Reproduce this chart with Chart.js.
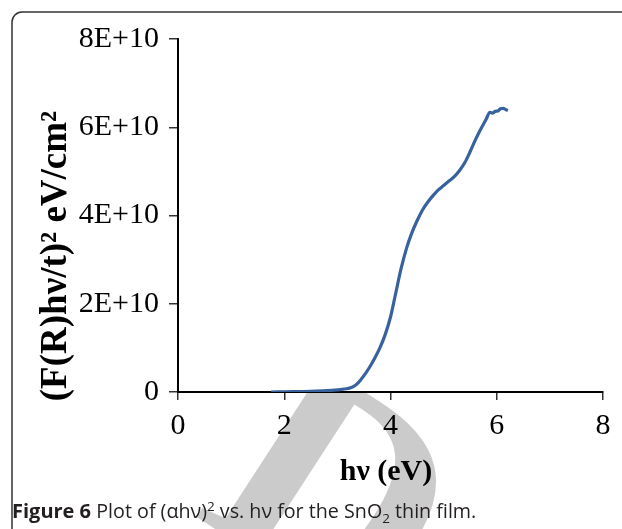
<!DOCTYPE html>
<html>
<head>
<meta charset="utf-8">
<script src="https://cdn.jsdelivr.net/npm/chart.js@4.4.1/dist/chart.umd.min.js"></script>
<style>
  html, body { margin: 0; padding: 0; background: #fff; }
  #wrap { width: 622px; height: 529px; position: relative; }
</style>
</head>
<body>
<div id="wrap"><canvas id="bandGapChart" width="622" height="529"></canvas></div>
<script>
// photon energy hv (eV) and (F(R)hv/t)^2 in units of 1E+10 eV/cm^2
const energy = [1.75, 2.0, 2.5, 2.8, 3.0, 3.2, 3.3, 3.4, 3.5, 3.6, 3.7, 3.8, 3.9, 4.0, 4.1,
                4.2, 4.3, 4.4, 4.5, 4.6, 4.7, 4.8, 4.9, 5.0, 5.1, 5.2, 5.3, 5.4, 5.5, 5.6, 5.7,
                5.8, 5.87, 5.92, 5.97, 6.02, 6.07, 6.12, 6.17, 6.21];
const absorb = [0.0, 0.005, 0.015, 0.03, 0.05, 0.08, 0.12, 0.22, 0.37, 0.55, 0.76, 1.0, 1.3, 1.7, 2.25,
                2.8, 3.25, 3.6, 3.88, 4.12, 4.3, 4.45, 4.58, 4.68, 4.78, 4.88, 5.02, 5.2, 5.45, 5.72, 5.96,
                6.18, 6.34, 6.32, 6.36, 6.37, 6.42, 6.43, 6.40, 6.38];
const xTicks = [0, 2, 4, 6, 8];
const yTicks = [0, 2e10, 4e10, 6e10, 8e10];

const points = energy.map((e, i) => ({ x: e, y: absorb[i] * 1e10 }));

// frame, watermark, axis titles and caption
const decor = {
    id: 'decor',
    beforeDraw(chart) {
        const ctx = chart.ctx;
        const area = chart.chartArea;
        ctx.save();
        ctx.fillStyle = '#fff';
        ctx.fillRect(0, 0, chart.width, chart.height);
        // watermark, hidden behind the plot
        ctx.beginPath();
        ctx.rect(0, area.bottom + 1, chart.width, chart.height);
        ctx.clip();
        ctx.fillStyle = '#cbcbcb';
        ctx.font = 'bold 300px "Liberation Serif"';
        ctx.translate(192, 514);
        ctx.rotate(0.576);
        ctx.textBaseline = 'alphabetic';
        ctx.fillText('D', 0, 0);
        ctx.restore();
    },
    afterDraw(chart) {
        const ctx = chart.ctx;
        ctx.save();
        // rounded frame
        ctx.strokeStyle = '#333';
        ctx.lineWidth = 1.5;
        ctx.beginPath();
        ctx.moveTo(12, 540);
        ctx.lineTo(12, 22);
        ctx.arcTo(12, 12, 22, 12, 10);
        ctx.lineTo(640, 12);
        ctx.stroke();

        ctx.fillStyle = '#000';
        ctx.textAlign = 'center';
        ctx.textBaseline = 'alphabetic';
        ctx.font = 'bold 30px "Liberation Serif"';
        ctx.fillText('h\u03bd (eV)', 386, 480);

        ctx.save();
        ctx.translate(66, 256);
        ctx.rotate(-Math.PI / 2);
        ctx.font = 'bold 37px "Liberation Serif"';
        ctx.fillText('(F(R)h\u03bd/t)\u00b2 eV/cm\u00b2', 0, 0);
        ctx.restore();

        // caption
        ctx.textAlign = 'left';
        ctx.fillStyle = '#231f20';
        let x = 12;
        const y = 518;
        ctx.font = 'bold 20px "Open Sans"';
        ctx.fillText('Figure 6', x, y);
        x += ctx.measureText('Figure 6 ').width;
        const parts = [['Plot of (\u03b1h\u03bd)', 0], ['2', -7], [' vs. h\u03bd for the SnO', 0], ['2', 5], [' thin film.', 0]];
        parts.forEach(([t, dy]) => {
            ctx.font = dy ? '13.5px "Open Sans"' : '19.7px "Open Sans"';
            ctx.fillText(t, x, y + dy);
            x += ctx.measureText(t).width;
        });
        ctx.restore();
    }
};

new Chart(document.getElementById('bandGapChart'), {
    type: 'scatter',
    data: {
        datasets: [{
            data: points,
            showLine: true,
            borderColor: '#38629d',
            borderWidth: 3.2,
            pointRadius: 0,
            cubicInterpolationMode: 'monotone'
        }]
    },
    options: {
        responsive: false,
        animation: false,
        layout: { padding: { left: 0, right: 19, top: 39, bottom: 0 } },
        plugins: { legend: { display: false }, tooltip: { enabled: false } },
        scales: {
            x: {
                type: 'linear',
                min: 0, max: 8,
                afterFit: s => { s.height = 137; },
                afterBuildTicks: s => { s.ticks = xTicks.map(v => ({ value: v })); },
                border: { color: '#000', width: 2 },
                grid: { drawOnChartArea: false, tickLength: 8, color: '#333', lineWidth: 1.5 },
                ticks: {
                    padding: 8,
                    color: '#000',
                    font: { family: 'Liberation Serif', size: 30 }
                }
            },
            y: {
                min: 0, max: 8e10,
                afterFit: s => { s.width = 178; },
                afterBuildTicks: s => { s.ticks = yTicks.map(v => ({ value: v })); },
                border: { color: '#000', width: 2 },
                grid: { drawOnChartArea: false, tickLength: 9, color: '#333', lineWidth: 1.5 },
                ticks: {
                    padding: 10,
                    color: '#000',
                    font: { family: 'Liberation Serif', size: 30 },
                    callback: v => v === 0 ? '0' : (v / 1e10) + 'E+10'
                }
            }
        }
    },
    plugins: [decor]
});
</script>
</body>
</html>
